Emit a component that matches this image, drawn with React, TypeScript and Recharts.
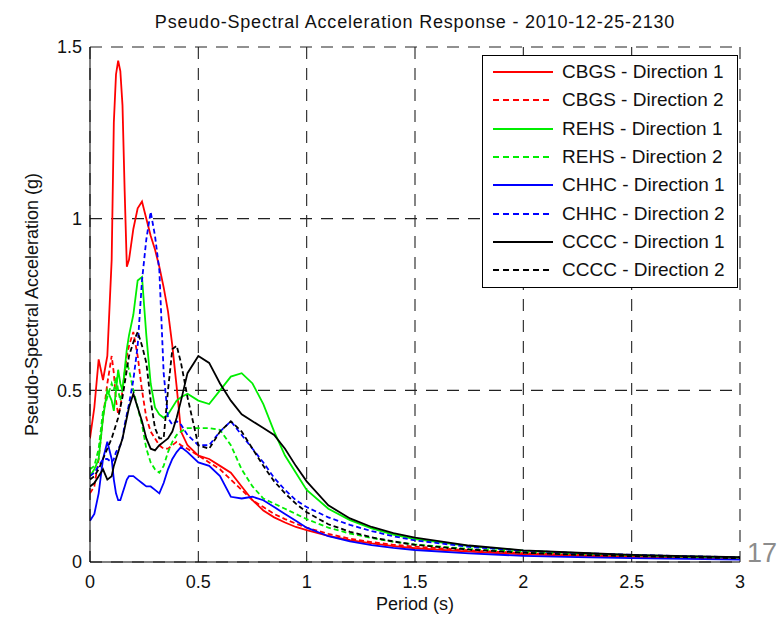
import { CartesianGrid, Legend, Line, LineChart, XAxis, YAxis } from "recharts";

// periods (s) shared by every spectrum
const periods = [
  0, 0.02, 0.04, 0.06, 0.08, 0.1, 0.11, 0.12, 0.13, 0.14, 0.15, 0.16, 0.17, 0.18, 0.2, 0.22,
  0.24, 0.26, 0.28, 0.3, 0.32, 0.34, 0.36, 0.38, 0.4, 0.42, 0.45, 0.5, 0.55, 0.6, 0.65, 0.7,
  0.75, 0.8, 0.85, 0.9, 0.95, 1.0, 1.1, 1.2, 1.3, 1.4, 1.5, 1.75, 2.0, 2.25, 2.5, 2.75, 3.0,
];

// pseudo-spectral acceleration (g)
const cbgsDir1 = [
  0.36, 0.45, 0.59, 0.53, 0.6, 0.88, 1.28, 1.42, 1.46, 1.43, 1.33, 1.08, 0.86, 0.88, 0.97, 1.03,
  1.05, 1.0, 0.95, 0.91, 0.86, 0.8, 0.73, 0.63, 0.51, 0.38, 0.34, 0.31, 0.3, 0.28, 0.26, 0.22,
  0.18, 0.15, 0.13, 0.115, 0.102, 0.093, 0.076, 0.064, 0.054, 0.046, 0.04, 0.03, 0.022, 0.018, 0.015, 0.012, 0.01,
];
const cbgsDir2 = [
  0.2, 0.22, 0.3, 0.42, 0.52, 0.6, 0.55, 0.47, 0.43, 0.45, 0.5, 0.55, 0.6, 0.63, 0.67, 0.6,
  0.5, 0.42, 0.38, 0.36, 0.34, 0.33, 0.33, 0.34, 0.35, 0.34, 0.33, 0.31, 0.29, 0.27, 0.24, 0.21,
  0.18, 0.16, 0.14, 0.125, 0.112, 0.1, 0.082, 0.068, 0.058, 0.05, 0.045, 0.034, 0.026, 0.021, 0.017, 0.014, 0.012,
];
const rehsDir1 = [
  0.25, 0.27, 0.3, 0.42, 0.5, 0.47, 0.44, 0.5, 0.56, 0.52, 0.5, 0.56, 0.62, 0.66, 0.72, 0.82,
  0.83, 0.66, 0.52, 0.45, 0.43, 0.42, 0.43, 0.45, 0.47, 0.48, 0.49, 0.47, 0.46, 0.5, 0.54, 0.55,
  0.52, 0.46, 0.38, 0.31, 0.26, 0.21, 0.155, 0.122, 0.098, 0.08, 0.067, 0.046, 0.033, 0.026, 0.02, 0.016, 0.013,
];
const rehsDir2 = [
  0.27, 0.28, 0.33, 0.44, 0.48, 0.52, 0.5, 0.54, 0.5, 0.47, 0.5, 0.55, 0.58, 0.56, 0.5, 0.45,
  0.4, 0.33, 0.29, 0.27, 0.26, 0.28, 0.32, 0.35, 0.37, 0.38, 0.39, 0.39, 0.39, 0.385, 0.34, 0.27,
  0.22, 0.185, 0.17, 0.155, 0.14, 0.125, 0.1, 0.083, 0.07, 0.059, 0.051, 0.038, 0.029, 0.023, 0.019, 0.015, 0.012,
];
const chhcDir1 = [
  0.12, 0.14, 0.2, 0.3, 0.35, 0.3, 0.24, 0.2, 0.18, 0.18, 0.2, 0.22, 0.24, 0.25, 0.25, 0.24,
  0.23, 0.22, 0.22, 0.21, 0.2, 0.23, 0.27, 0.3, 0.32, 0.335, 0.32, 0.29, 0.28, 0.25, 0.19, 0.185,
  0.19, 0.18, 0.16, 0.14, 0.12, 0.1, 0.075, 0.06, 0.049, 0.041, 0.035, 0.025, 0.018, 0.014, 0.011, 0.009, 0.007,
];
const chhcDir2 = [
  0.25, 0.26, 0.28, 0.3, 0.3, 0.29, 0.3, 0.32, 0.33, 0.34, 0.36, 0.4, 0.43, 0.46, 0.53, 0.63,
  0.82, 0.94, 1.02, 0.95, 0.85, 0.55, 0.42, 0.4, 0.41, 0.4, 0.37, 0.34, 0.34, 0.38, 0.41, 0.37,
  0.33, 0.29, 0.245, 0.21, 0.18, 0.16, 0.13, 0.108, 0.09, 0.075, 0.063, 0.044, 0.033, 0.026, 0.021, 0.017, 0.014,
];
const ccccDir1 = [
  0.22, 0.23, 0.25, 0.27, 0.24, 0.25, 0.28, 0.3, 0.32, 0.34, 0.36, 0.39, 0.42, 0.45, 0.49, 0.45,
  0.41, 0.36, 0.33, 0.325, 0.34, 0.35, 0.36, 0.38, 0.42, 0.47, 0.55, 0.6, 0.58, 0.52, 0.47, 0.43,
  0.41, 0.39, 0.37, 0.33, 0.28, 0.235, 0.165, 0.127, 0.102, 0.084, 0.071, 0.048, 0.034, 0.027, 0.021, 0.017, 0.014,
];
const ccccDir2 = [
  0.24, 0.25, 0.27, 0.3, 0.33, 0.36, 0.38, 0.4, 0.42, 0.45, 0.48, 0.52, 0.56, 0.6, 0.64, 0.67,
  0.63, 0.58, 0.47, 0.39, 0.36, 0.36, 0.5, 0.62, 0.63, 0.58, 0.48, 0.34, 0.33, 0.38, 0.41, 0.38,
  0.33, 0.28, 0.235, 0.2, 0.17, 0.145, 0.11, 0.088, 0.072, 0.06, 0.05, 0.036, 0.027, 0.021, 0.017, 0.014, 0.011,
];

const xTicks = [0, 0.5, 1, 1.5, 2, 2.5, 3];
const yTicks = [0, 0.5, 1, 1.5];

const series = [
  { key: "cbgs1", name: "CBGS - Direction 1", color: "#ff0000", dashed: false, values: cbgsDir1 },
  { key: "cbgs2", name: "CBGS - Direction 2", color: "#ff0000", dashed: true, values: cbgsDir2 },
  { key: "rehs1", name: "REHS - Direction 1", color: "#00ee00", dashed: false, values: rehsDir1 },
  { key: "rehs2", name: "REHS - Direction 2", color: "#00ee00", dashed: true, values: rehsDir2 },
  { key: "chhc1", name: "CHHC - Direction 1", color: "#0000ff", dashed: false, values: chhcDir1 },
  { key: "chhc2", name: "CHHC - Direction 2", color: "#0000ff", dashed: true, values: chhcDir2 },
  { key: "cccc1", name: "CCCC - Direction 1", color: "#000000", dashed: false, values: ccccDir1 },
  { key: "cccc2", name: "CCCC - Direction 2", color: "#000000", dashed: true, values: ccccDir2 },
];

const data = periods.map((period, i) => {
  const row: Record<string, number> = { period };
  series.forEach((s) => {
    row[s.key] = s.values[i];
  });
  return row;
});

const FONT = "'Liberation Sans', Arial, sans-serif";

const renderLegend = () => (
  <div
    style={{
      width: 256,
      height: 233,
      boxSizing: "border-box",
      border: "1px solid #000",
      background: "#fff",
      padding: "2px 0 0 10px",
      fontFamily: FONT,
    }}
  >
    {series.map((s) => (
      <div key={s.key} style={{ display: "flex", alignItems: "center", height: 28.3 }}>
        <svg width={60} height={6} style={{ flex: "none" }}>
          <line
            x1={0}
            y1={3}
            x2={60}
            y2={3}
            stroke={s.color}
            strokeWidth={2}
            strokeDasharray={s.dashed ? "6 4" : undefined}
          />
        </svg>
        <span style={{ marginLeft: 9, fontSize: 19, color: "#111", whiteSpace: "nowrap" }}>{s.name}</span>
      </div>
    ))}
  </div>
);

const renderYLabel = (props: any) => {
  const vb = props.viewBox;
  const x = vb.x - 12;
  const y = vb.y + vb.height / 2;
  return (
    <text
      x={x}
      y={y}
      transform={`rotate(-90, ${x}, ${y})`}
      textAnchor="middle"
      fontSize={18}
      fontFamily={FONT}
      fill="#111"
    >
      Pseudo-Spectral Acceleration (g)
    </text>
  );
};

export default function App() {
  return (
    <div style={{ position: "absolute", left: 0, top: 0, width: 779, height: 621, background: "#fff" }}>
      <div
        style={{
          position: "absolute",
          left: 115,
          top: 12,
          width: 600,
          textAlign: "center",
          fontSize: 18,
          lineHeight: "20px",
          letterSpacing: 0.8,
          color: "#111",
          fontFamily: FONT,
          whiteSpace: "nowrap",
        }}
      >
        Pseudo-Spectral Acceleration Response - 2010-12-25-2130
      </div>
      <LineChart width={779} height={621} data={data} margin={{ top: 47, right: 39, left: 50, bottom: 3 }}>
        <CartesianGrid stroke="#222" strokeDasharray="12 9" strokeWidth={1.1} />
        <XAxis
          dataKey="period"
          type="number"
          domain={[0, 3]}
          ticks={xTicks}
          allowDataOverflow
          stroke="#000"
          tickLine={false}
          tickSize={0}
          tickMargin={13}
          height={56}
          tick={{ fontSize: 18, fill: "#111", fontFamily: FONT }}
          label={{
            value: "Period (s)",
            position: "insideBottom",
            offset: 8,
            fontSize: 18,
            fill: "#111",
            fontFamily: FONT,
          }}
        />
        <XAxis
          xAxisId="top"
          orientation="top"
          type="number"
          domain={[0, 3]}
          ticks={xTicks}
          height={0}
          stroke="#000"
          tick={false}
          tickLine={false}
        />
        <YAxis
          type="number"
          domain={[0, 1.5]}
          ticks={yTicks}
          allowDataOverflow
          width={40}
          stroke="#000"
          tickLine={false}
          tickSize={0}
          tickMargin={8}
          tick={{ fontSize: 18, fill: "#111", fontFamily: FONT }}
          label={{ content: renderYLabel }}
        />
        <YAxis
          yAxisId="right"
          orientation="right"
          type="number"
          domain={[0, 1.5]}
          ticks={yTicks}
          width={0}
          stroke="#000"
          tick={false}
          tickLine={false}
        />
        {series.map((s) => (
          <Line
            key={s.key}
            dataKey={s.key}
            name={s.name}
            type="linear"
            stroke={s.color}
            strokeWidth={1.8}
            strokeDasharray={s.dashed ? "5 3" : undefined}
            dot={false}
            isAnimationActive={false}
          />
        ))}
        <Legend
          layout="vertical"
          align="center"
          verticalAlign="middle"
          wrapperStyle={{ left: 482, top: 55, width: 256, height: 233 }}
          content={renderLegend}
        />
      </LineChart>
      <div
        style={{
          position: "absolute",
          left: 747,
          top: 540,
          fontSize: 27,
          lineHeight: 1,
          color: "#8c8c8c",
          fontFamily: FONT,
        }}
      >
        17
      </div>
    </div>
  );
}
